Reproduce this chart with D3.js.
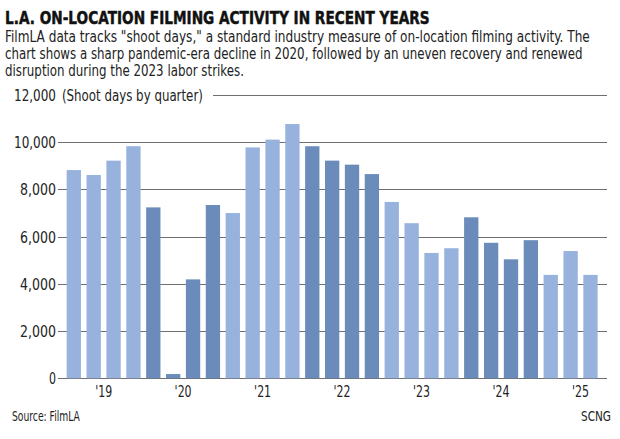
<!DOCTYPE html>
<html><head><meta charset="utf-8">
<script src="https://cdn.jsdelivr.net/npm/d3@7"></script>
<style>
html,body{margin:0;padding:0;background:#fff;}
svg{display:block;}
text{font-family:"DejaVu Sans Condensed","Roboto",sans-serif;fill:#222;}
text.title{font-family:"DejaVu Sans",sans-serif;font-weight:bold;fill:#111;stroke:#111;stroke-width:0.5px;}
</style></head>
<body>
<svg id="chart" width="620" height="439"></svg>
<script>
const quarters = ["2019 Q1","2019 Q2","2019 Q3","2019 Q4","2020 Q1","2020 Q2","2020 Q3","2020 Q4","2021 Q1","2021 Q2","2021 Q3","2021 Q4","2022 Q1","2022 Q2","2022 Q3","2022 Q4","2023 Q1","2023 Q2","2023 Q3","2023 Q4","2024 Q1","2024 Q2","2024 Q3","2024 Q4","2025 Q1","2025 Q2","2025 Q3"];
const shootDays = [8820,8610,9220,9830,7240,180,4190,7340,7000,9780,10110,10770,9830,9220,9050,8650,7470,6570,5310,5510,6820,5740,5040,5850,4380,5390,4380];
const years = ["2019","2020","2021","2022","2023","2024","2025"];
const yearLabels = ["'19","'20","'21","'22","'23","'24","'25"];
const yTicks = [0,2000,4000,6000,8000,10000,12000];

const svg = d3.select("#chart");
const light = "#97b3dd", dark = "#6b8cba";

const x = d3.scaleBand().domain(quarters).range([61.1, 603.2]).paddingInner(0.28).paddingOuter(0.28);
const y = d3.scaleLinear().domain([0, 12000]).range([378.3, 95]);

// text squeezed horizontally to a target width (condensed look)
function fitText(parent, tx, ty, width, str, size, cls, anchor) {
  const gg = parent.append("g");
  const t = gg.append("text").attr("class", cls || null).attr("x",0).attr("y",0).style("font-size",size+"px")
    .attr("text-anchor", anchor || "start").text(str);
  const w = t.node().getComputedTextLength();
  const s = width / w;
  gg.attr("transform", `translate(${tx},${ty}) scale(${s},1)`);
  return t;
}

// title & subtitle
fitText(svg, 5, 24, 425, "L.A. ON-LOCATION FILMING ACTIVITY IN RECENT YEARS", 17.5, "title");
const sub = [
  ['FilmLA data tracks "shoot days," a standard industry measure of on-location filming activity. The', 585],
  ['chart shows a sharp pandemic-era decline in 2020, followed by an uneven recovery and renewed', 578],
  ['disruption during the 2023 labor strikes.', 239]
];
sub.forEach((s,i)=> fitText(svg, 5, 42+i*17, s[1], s[0], 15));

// gridlines and y labels
const g = svg.append("g");
yTicks.forEach(t=>{
  const x0 = t===12000 ? 213 : 58;
  g.append("line").attr("x1",x0).attr("x2",607).attr("y1",Math.round(y(t))+0.5).attr("y2",Math.round(y(t))+0.5)
    .attr("stroke","#6f6f6f").attr("stroke-width",1);
  const lbl = d3.format(",")(t);
  fitText(g, 56, y(t)+6, lbl.length===1 ? 7 : (lbl.length===5 ? 36 : 42), lbl, 16.5, null, "end");
});
fitText(svg, 62, y(12000)+6, 141, "(Shoot days by quarter)", 16.5);

// bars
const yearIndex = q => years.indexOf(q.slice(0,4));
svg.append("g").selectAll("rect").data(quarters).join("rect")
  .attr("x", d=>x(d)).attr("width", x.bandwidth())
  .attr("y", (d,i)=>y(shootDays[i])).attr("height",(d,i)=>y(0)-y(shootDays[i]))
  .attr("fill", d=> yearIndex(d)%2===0 ? light : dark);

// x year labels
years.forEach((yr,i)=>{
  const cx = x(yr+" Q1") + 1.5*x.step() + x.bandwidth()/2;
  fitText(svg, cx, 397, 17, yearLabels[i], 16, null, "middle");
});

// footer
fitText(svg, 12, 421, 68, "Source: FilmLA", 13.5);
fitText(svg, 611, 421, 30, "SCNG", 13.5, null, "end");
</script>
</body></html>
